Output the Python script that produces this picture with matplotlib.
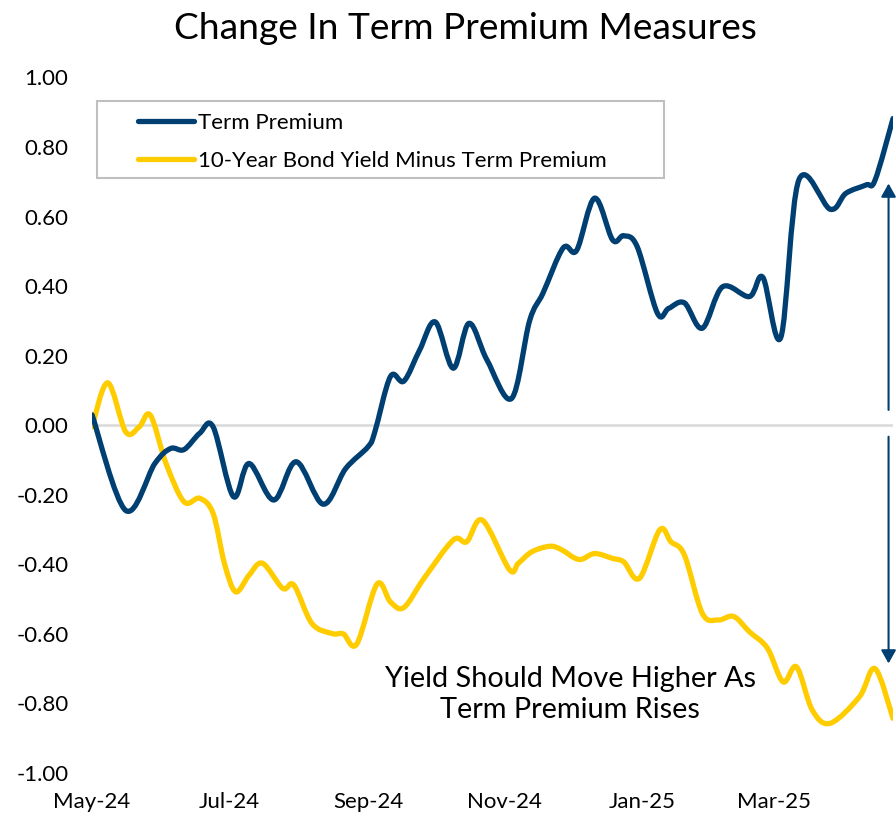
import matplotlib.pyplot as plt
import matplotlib.dates as mdates
from matplotlib.path import Path
from matplotlib.patches import PathPatch, Rectangle
from matplotlib.lines import Line2D
import numpy as np
import pandas as pd

plt.rcParams['font.family'] = ['Lato', 'DejaVu Sans']

# Term Premium (change since May-24)
tp_dates = ["2024-05-01", "2024-05-16", "2024-05-29", "2024-06-05", "2024-06-11",
            "2024-06-18", "2024-06-24", "2024-07-03", "2024-07-10", "2024-07-21",
            "2024-07-31", "2024-08-12", "2024-08-22", "2024-09-01", "2024-09-04",
            "2024-09-11", "2024-09-17", "2024-09-24", "2024-10-01", "2024-10-09",
            "2024-10-16", "2024-10-24", "2024-11-04", "2024-11-12", "2024-11-18",
            "2024-11-27", "2024-12-03", "2024-12-11", "2024-12-19", "2024-12-24",
            "2024-12-30", "2025-01-08", "2025-01-13", "2025-01-20", "2025-01-28",
            "2025-02-06", "2025-02-18", "2025-02-24", "2025-03-04", "2025-03-12",
            "2025-03-26", "2025-04-02", "2025-04-11", "2025-04-15", "2025-04-23"]
tp_values = [0.03, -0.245, -0.11, -0.067, -0.07,
             -0.023, -0.005, -0.205, -0.11, -0.215,
             -0.105, -0.227, -0.125, -0.062, -0.02,
             0.14, 0.127, 0.216, 0.297, 0.164,
             0.293, 0.188, 0.077, 0.30, 0.38,
             0.51, 0.503, 0.653, 0.533, 0.545,
             0.513, 0.322, 0.336, 0.352, 0.279,
             0.398, 0.37, 0.425, 0.253, 0.705,
             0.621, 0.667, 0.691, 0.705, 0.882]

# 10-Year Bond Yield Minus Term Premium
yld_dates = ["2024-05-01", "2024-05-08", "2024-05-16", "2024-05-22", "2024-05-27",
             "2024-06-03", "2024-06-11", "2024-06-18", "2024-06-24", "2024-06-29",
             "2024-07-04", "2024-07-10", "2024-07-16", "2024-07-25", "2024-07-30",
             "2024-08-07", "2024-08-16", "2024-08-21", "2024-08-27", "2024-09-05",
             "2024-09-11", "2024-09-17", "2024-09-26", "2024-10-09", "2024-10-15",
             "2024-10-22", "2024-11-03", "2024-11-07", "2024-11-13", "2024-11-21",
             "2024-11-26", "2024-12-04", "2024-12-11", "2024-12-19", "2024-12-24",
             "2024-12-31", "2025-01-09", "2025-01-14", "2025-01-20", "2025-01-28",
             "2025-02-04", "2025-02-11", "2025-02-18", "2025-02-26", "2025-03-05",
             "2025-03-11", "2025-03-18", "2025-03-26", "2025-04-08", "2025-04-15",
             "2025-04-23"]
yld_values = [-0.005, 0.122, -0.019, -0.005, 0.029,
              -0.11, -0.22, -0.21, -0.254, -0.397,
              -0.479, -0.431, -0.397, -0.469, -0.46,
              -0.57, -0.599, -0.60, -0.629, -0.457,
              -0.508, -0.524, -0.44, -0.33, -0.335,
              -0.273, -0.415, -0.397, -0.364, -0.348,
              -0.357, -0.386, -0.369, -0.383, -0.393,
              -0.44, -0.301, -0.335, -0.373, -0.541,
              -0.56, -0.55, -0.594, -0.641, -0.738,
              -0.695, -0.819, -0.857, -0.781, -0.70,
              -0.843]

tick_dates = ["2024-05-01", "2024-07-01", "2024-09-01", "2024-11-01", "2025-01-01", "2025-03-01"]
y_ticks = [-1.0, -0.8, -0.6, -0.4, -0.2, 0.0, 0.2, 0.4, 0.6, 0.8, 1.0]

navy = "#003F72"
gold = "#FFCC00"


def smooth_path(dates, values):
    # smoothed line like a spreadsheet chart: bezier segments through each point
    x = mdates.date2num(pd.to_datetime(dates))
    pts = np.column_stack([x, np.asarray(values, dtype=float)])
    n = len(pts)
    verts = [pts[0]]
    codes = [Path.MOVETO]
    for i in range(n - 1):
        p0 = pts[i - 1] if i > 0 else pts[i]
        p3 = pts[i + 2] if i + 2 < n else pts[i + 1]
        c1 = pts[i] + (pts[i + 1] - p0) / 6
        c2 = pts[i + 1] - (p3 - pts[i]) / 6
        verts += [c1, c2, pts[i + 1]]
        codes += [Path.CURVE4] * 3
    return Path(verts, codes)


fig = plt.figure(figsize=(8.96, 8.18), dpi=100)
ax = fig.add_axes([0.1027, 0.055, 0.894, 0.8503])

ax.axhline(0, color="#D9D9D9", lw=1.8, zorder=1)

for d, v, c in [(yld_dates, yld_values, gold), (tp_dates, tp_values, navy)]:
    ax.add_patch(PathPatch(smooth_path(d, v), fill=False, edgecolor=c, lw=3.8,
                           capstyle="round", joinstyle="round", zorder=3))

x0 = mdates.date2num(pd.Timestamp(tp_dates[0]))
x1 = mdates.date2num(pd.Timestamp(tp_dates[-1]))
ax.set_xlim(x0, x1)
ax.set_ylim(-1.0, 1.0)

ax.set_xticks(mdates.date2num(pd.to_datetime(tick_dates)))
ax.xaxis.set_major_formatter(mdates.DateFormatter("%b-%y"))
ax.set_yticks(y_ticks)
ax.set_yticklabels([f"{v:.2f}" for v in y_ticks])
ax.tick_params(axis="both", length=0, labelsize=16, colors="black")
ax.tick_params(axis="y", pad=17)
ax.tick_params(axis="x", pad=14)
for s in ax.spines.values():
    s.set_visible(False)

# arrows on the right
ax_x = mdates.date2num(pd.Timestamp("2025-04-21"))
ax.annotate("", xy=(ax_x, 0.695), xytext=(ax_x, 0.044),
            arrowprops=dict(arrowstyle="-|>,head_length=0.8,head_width=0.45",
                            color="#2F5F8F", lw=1.5, shrinkA=0, shrinkB=0,
                            fc=navy, ec=navy), zorder=4)
ax.annotate("", xy=(ax_x, -0.685), xytext=(ax_x, -0.033),
            arrowprops=dict(arrowstyle="-|>,head_length=0.8,head_width=0.45",
                            color="#2F5F8F", lw=1.5, shrinkA=0, shrinkB=0,
                            fc=navy, ec=navy), zorder=4)

ax.text(0.597, 0.113, "Yield Should Move Higher As\nTerm Premium Rises",
        transform=ax.transAxes, ha="center", va="center", fontsize=20.8,
        linespacing=1.25, color="black", zorder=5)

# legend box
ax.add_patch(Rectangle((0.006, 0.8555), 0.708, 0.111, transform=ax.transAxes,
                       fill=True, facecolor="white", edgecolor="#BFBFBF", lw=1.5,
                       zorder=6, clip_on=False))
handles = [Line2D([], [], color=navy, lw=3.8, solid_capstyle="round"),
           Line2D([], [], color=gold, lw=3.8, solid_capstyle="round")]
leg = ax.legend(handles, ["Term Premium", "10-Year Bond Yield Minus Term Premium"],
                loc="center left", bbox_to_anchor=(0.0574, 0.907), frameon=False,
                fontsize=16, handlelength=2.5, handletextpad=0.2, borderpad=0,
                borderaxespad=0, labelspacing=0.82)
leg.set_zorder(7)

fig.text(0.52, 0.965, "Change In Term Premium Measures", ha="center", va="center",
         fontsize=26.7, color="black")

fig.savefig("out.png", dpi=100)
